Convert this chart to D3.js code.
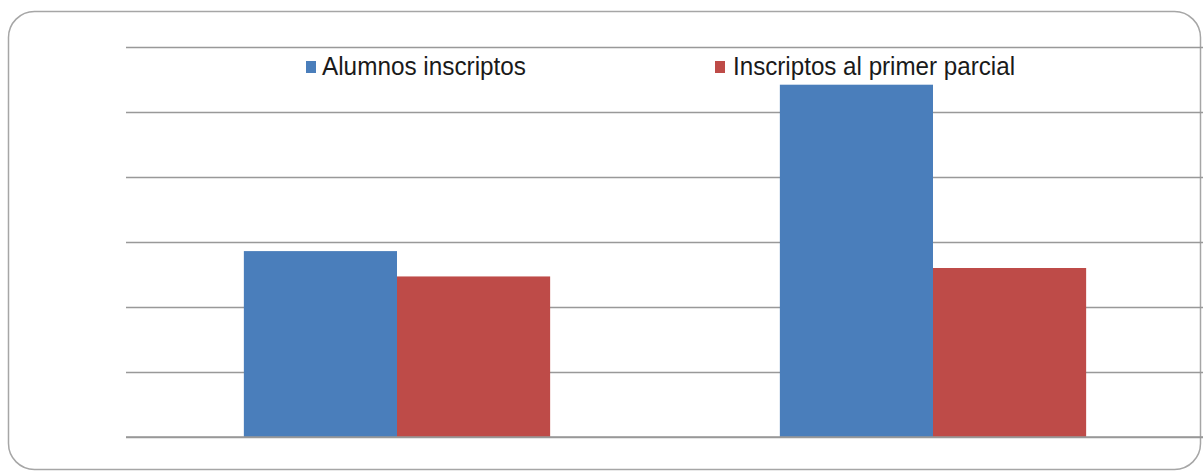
<!DOCTYPE html>
<html>
<head>
<meta charset="utf-8">
<script src="https://cdn.jsdelivr.net/npm/d3@7"></script>
<style>
	html, body { margin: 0; padding: 0; background: #fff; }
	svg { display: block; }
</style>
</head>
<body>
<svg id="chart" width="1203" height="472"></svg>
<script>
// data (no axis labels in the original, scale 0..600 assumed)
const categories = ["Grupo 1", "Grupo 2"];
const series = ["Alumnos inscriptos", "Inscriptos al primer parcial"];
const alumnosInscriptos = [286, 542];
const inscriptosParcial = [247, 260];
const yTicks = [0, 100, 200, 300, 400, 500, 600];

const colors = { "Alumnos inscriptos": "#4a7ebb", "Inscriptos al primer parcial": "#be4b48" };

const svg = d3.select("#chart");
const plot = { left: 126, right: 1201, top: 47, bottom: 437 };

// frame
svg.append("rect")
	.attr("x", 8.5).attr("y", 11.5)
	.attr("width", 1192).attr("height", 458)
	.attr("rx", 26).attr("ry", 26)
	.attr("fill", "#fff")
	.attr("stroke", "#a6a6a6").attr("stroke-width", 1.5);

const x0 = d3.scaleBand().domain(categories).range([plot.left + 3, plot.right]).padding(0);
const x1 = d3.scaleBand().domain(series).range([0, x0.bandwidth()])
	.paddingInner(0).paddingOuter(0.75);
const y = d3.scaleLinear().domain([0, 600]).range([plot.bottom, plot.top]);

// gridlines
svg.append("g").attr("class", "grid")
	.attr("transform", "translate(" + [plot.left, 0] + ")")
	.call(d3.axisLeft(y).tickValues(yTicks).tickSize(-(plot.right - plot.left + 2)).tickFormat(""))
	.call(g => g.select(".domain").remove())
	.call(g => g.selectAll("line").attr("stroke", "#999").attr("stroke-width", 1.6));

const rows = categories.map((c, i) => ({
	cat: c,
	values: [
		{ name: series[0], amount: alumnosInscriptos[i] },
		{ name: series[1], amount: inscriptosParcial[i] }
	]
}));

svg.append("g").selectAll("g").data(rows).enter().append("g")
	.attr("transform", d => "translate(" + [x0(d.cat), 0] + ")")
	.selectAll("rect").data(d => d.values).enter().append("rect")
	.attr("x", d => x1(d.name))
	.attr("y", d => y(d.amount))
	.attr("width", x1.bandwidth())
	.attr("height", d => y(0) - y(d.amount))
	.attr("fill", d => colors[d.name]);

// baseline on top of the bars
svg.append("line")
	.attr("x1", plot.left).attr("x2", plot.right + 2)
	.attr("y1", y(0)).attr("y2", y(0))
	.attr("stroke", "#999").attr("stroke-width", 1.6);

// legend
const legendX = [306, 715];
const legendW = [204, 282];
const legend = svg.append("g").selectAll("g").data(series).enter().append("g")
	.attr("transform", (d, i) => "translate(" + [legendX[i], 61] + ")");
legend.append("rect")
	.attr("width", 10).attr("height", 12)
	.attr("fill", d => colors[d]);
legend.append("text")
	.attr("x", (d, i) => i ? 18 : 16).attr("y", 14)
	.attr("font-family", "Liberation Sans, Arial, sans-serif")
	.attr("font-size", 25)
	.attr("fill", "#1a1a1a")
	.attr("textLength", (d, i) => legendW[i])
	.attr("lengthAdjust", "spacingAndGlyphs")
	.text(d => d);
</script>
</body>
</html>
